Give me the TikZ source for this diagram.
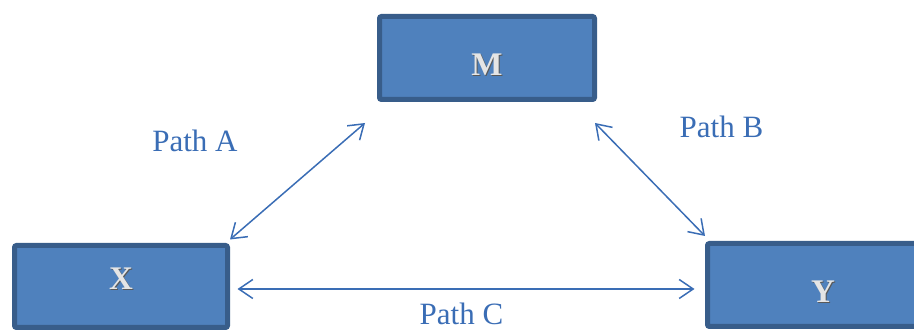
\documentclass[tikz,border=0pt]{standalone}
\usepackage{fontspec}
\setmainfont{Liberation Serif}
\usepackage{tikz}
\usetikzlibrary{arrows.meta}

\definecolor{boxfill}{HTML}{4F81BD}
\definecolor{boxline}{HTML}{385D8A}
\definecolor{pathblue}{HTML}{3A6DB5}
\newcommand{\emb}[1]{\makebox[0pt][l]{\hspace{1pt}\raisebox{-1pt}{\color{black!65}#1}}\textcolor{white!90!black}{#1}}

\begin{document}
\begin{tikzpicture}[x=1pt,y=1pt,
    varbox/.style={draw=boxline,fill=boxfill,line width=5pt,rounded corners=2pt,inner sep=0pt},
    varname/.style={font=\fontsize{33}{40}\selectfont\bfseries},
    pathname/.style={text=pathblue,font=\fontsize{31}{37}\selectfont,anchor=base},
    link/.style={draw=pathblue,line width=1.5pt,{Straight Barb[length=14pt,width=19pt]}-{Straight Barb[length=14pt,width=19pt]}}]
        \useasboundingbox (0,0) rectangle (914,331);
        \node[varbox,minimum width=215pt,minimum height=83pt] (m) at (487,273) {};
        \node[varbox,minimum width=213pt,minimum height=82pt] (x) at (121,44.5) {};
        \node[varbox,minimum width=210pt,minimum height=83pt] (y) at (812.5,46) {};
        \node[varname] (mtext) at (487,266) {\emb{M}};
        \node[varname] (xtext) at (121,52) {\emb{X}};
        \node[varname] (ytext) at (823,39) {\emb{Y}};
        \coordinate (ma) at (365,208);
        \coordinate (mb) at (595,208);
        \draw[link] ([yshift=3.5pt]x.north east) -- (ma);
        \draw[link] (mb) -- ([yshift=5pt]y.north west);
        \draw[link] ([shift={(7.5pt,-2.5pt)}]x.east) -- ([shift={(-10.5pt,-4pt)}]y.west);
        \node[pathname] (pa) at (195,179) {Path A};
        \node[pathname] (pb) at (721.5,193) {Path B};
        \node[pathname] (pc) at (461.5,6) {Path C};
    \end{tikzpicture}
\end{document}
